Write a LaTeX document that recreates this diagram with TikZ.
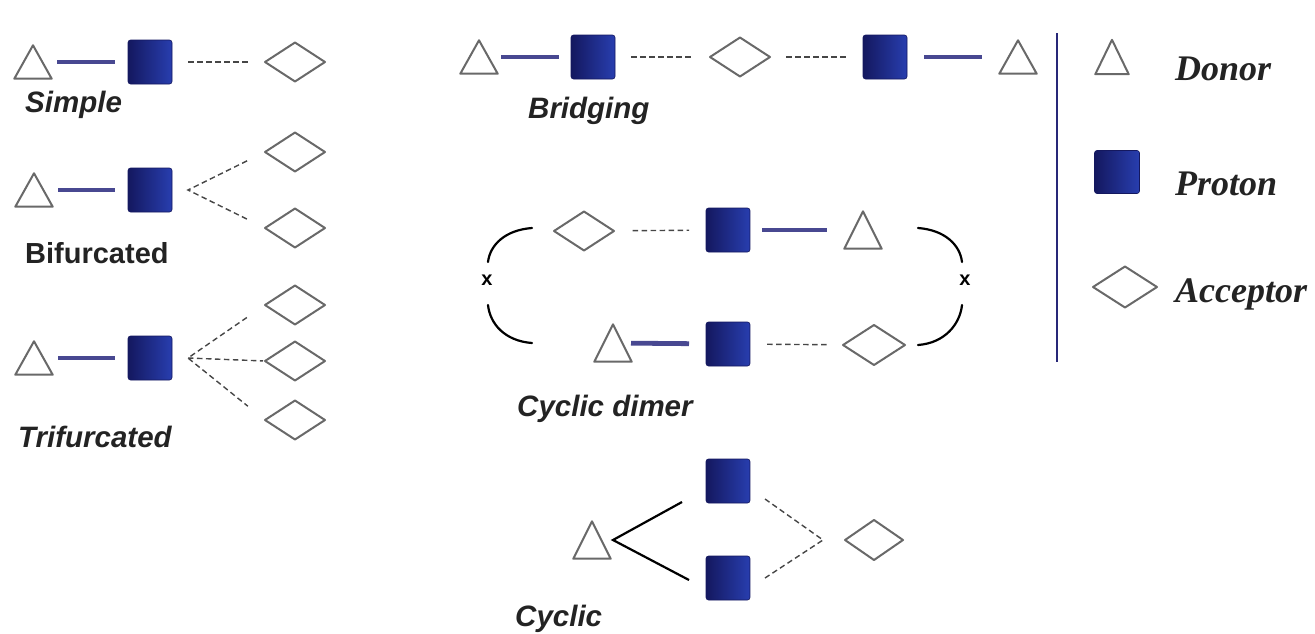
\documentclass[tikz,border=0pt]{standalone}
\usepackage{fontspec}
\setmainfont{Liberation Serif}
\newfontfamily\labfont{Liberation Sans}
\usetikzlibrary{shapes.geometric}
\definecolor{shapegray}{RGB}{105,105,105}
\definecolor{bondc}{RGB}{72,72,145}
\definecolor{hbc}{RGB}{70,70,70}
\definecolor{pdark}{RGB}{20,24,95}
\definecolor{plight}{RGB}{40,62,175}
\definecolor{vlinec}{RGB}{40,40,120}
\definecolor{labc}{RGB}{35,35,35}
\begin{document}
\begin{tikzpicture}[x=1pt,y=-1pt,
  shapeline/.style={draw=shapegray, line width=2pt, line join=round},
  donor/.style={shape=rectangle, inner sep=0pt, outer sep=0pt, fill=white,
    minimum width=40pt, minimum height=36pt,
    path picture={\draw[shapeline]
      ([shift={(1.3pt,1.3pt)}]path picture bounding box.south west) --
      ([shift={(-1.3pt,1.3pt)}]path picture bounding box.south east) --
      ([shift={(0pt,-1.3pt)}]path picture bounding box.north) -- cycle;}},
  acceptor/.style={shape=diamond, shapeline, fill=white, inner sep=0pt, outer sep=0pt,
    minimum width=60pt, minimum height=39pt},
  proton/.style={shape=rectangle, rounded corners=2.5pt, inner sep=0pt, outer sep=0pt,
    minimum width=44pt, minimum height=44pt, left color=pdark, right color=plight,
    draw=pdark, line width=0.6pt},
  bond/.style={draw=bondc, line width=4.8pt},
  hb/.style={draw=hbc, line width=1.4pt, dash pattern=on 5.5pt off 3.5pt},
  single/.style={draw=black, line width=2.2pt},
  bracket/.style={draw=black, line width=2.2pt, line cap=round},
  lbl/.style={anchor=base west, inner sep=0pt, text=labc,
    font=\labfont\fontsize{29.5}{34}\selectfont\bfseries\itshape},
  lblup/.style={anchor=base west, inner sep=0pt, text=labc,
    font=\labfont\fontsize{29}{34}\selectfont\bfseries},
  leg/.style={anchor=base west, inner sep=0pt, text=labc,
    font=\fontsize{36}{40}\selectfont\bfseries\itshape},
  xlab/.style={inner sep=0pt, text=black, font=\labfont\fontsize{20}{22}\selectfont\bfseries}
]
\useasboundingbox (0,0) rectangle (1315,633);

% ---------- Simple ----------
\node[donor] (t1) at (33,62) {};
\node[proton] (s1) at (150,62) {};
\node[acceptor] (a1) at (295,62) {};
\draw[bond, shorten <=4pt, shorten >=13pt] (t1) -- (s1);
\draw[hb, shorten <=16pt, shorten >=16pt] (s1) -- (a1);
\node[lbl] (lsimple) at (25,112) {Simple};

% ---------- Bifurcated ----------
\node[donor] (t2) at (34,190) {};
\node[proton] (s2) at (150,190) {};
\node[acceptor] (a2u) at (295,152) {};
\node[acceptor] (a2d) at (295,228) {};
\coordinate (v2) at ([xshift=16pt]s2.east);
\draw[bond, shorten <=4pt, shorten >=13pt] (t2) -- (s2);
\draw[hb, shorten <=20pt, shorten >=20pt] (a2u.west) -- (v2) -- (a2d.west);
\node[lblup] (lbif) at (25,263) {Bifurcated};

% ---------- Trifurcated ----------
\node[donor] (t3) at (34,358) {};
\node[proton] (s3) at (150,358) {};
\node[acceptor] (a3u) at (295,305) {};
\node[acceptor] (a3m) at (295,361) {};
\node[acceptor] (a3d) at (295,420) {};
\coordinate (v3) at ([xshift=16pt]s3.east);
\draw[bond, shorten <=4pt, shorten >=13pt] (t3) -- (s3);
\draw[hb, shorten <=22pt, shorten >=22pt] (a3u.west) -- (v3) -- (a3d.west);
\draw[hb, shorten >=2pt] (v3) -- (a3m.west);
\node[lbl] (ltri) at (18,447) {Trifurcated};

% ---------- Bridging ----------
\node[donor] (tb1) at (479,57) {};
\node[proton] (sb1) at (593,57) {};
\node[acceptor] (ab) at (740,57) {};
\node[proton] (sb2) at (885,57) {};
\node[donor] (tb2) at (1018,57) {};
\draw[bond, shorten <=2pt, shorten >=12pt] (tb1) -- (sb1);
\draw[hb, shorten <=16pt, shorten >=17pt] (sb1) -- (ab);
\draw[hb, shorten <=16pt, shorten >=16pt] (ab) -- (sb2);
\draw[bond, shorten <=17pt, shorten >=16pt] (sb2) -- (tb2);
\node[lbl] (lbridge) at (528,118) {Bridging};

% ---------- Cyclic dimer ----------
\node[acceptor] (ad1) at (584,231) {};
\node[proton] (sd1) at (728,230) {};
\node[donor, minimum height=40pt] (td1) at (863,230) {};
\node[donor, minimum height=40pt] (td2) at (613,343) {};
\node[proton] (sd2) at (728,344) {};
\node[acceptor, minimum width=62pt, minimum height=40pt] (ad2) at (874,345) {};
\draw[hb, shorten <=19pt, shorten >=17pt] (ad1) -- (sd1);
\draw[bond, shorten <=12pt, shorten >=16pt] (sd1) -- (td1);
\draw[bond, shorten <=-2pt, shorten >=17pt] (td2) -- (sd2);
\draw[hb, shorten <=17pt, shorten >=16pt] (sd2) -- (ad2);
\node[xlab] (xl) at (487,280) {x};
\node[xlab] (xr) at (965,280) {x};
\draw[bracket] (532,228) .. controls (505,230) and (490,245) .. (488,262);
\draw[bracket] (488,305) .. controls (490,324) and (505,341) .. (532,343);
\draw[bracket] (918,228) .. controls (945,230) and (960,245) .. (962,262);
\draw[bracket] (962,305) .. controls (960,324) and (945,343) .. (918,345);
\node[lbl] (ldimer) at (517,416) {Cyclic dimer};

% ---------- Cyclic ----------
\node[proton] (p1) at (728,481) {};
\node[proton] (p2) at (728,578) {};
\node[donor, minimum height=40pt] (tc) at (592,540) {};
\node[acceptor, minimum width=58pt, minimum height=40pt] (dc) at (874,540) {};
\coordinate (cv) at ([xshift=-22pt]dc.west);
\draw[single] ([shift={(-24,21)}]p1.west) -- ([xshift=1pt]tc.east) -- ([shift={(-17,2)}]p2.west);
\draw[hb] ([shift={(15,18)}]p1.east) -- (cv) -- ([xshift=15pt]p2.east);
\node[lbl] (lcyc) at (515,626) {Cyclic};

% ---------- Legend ----------
\draw[draw=vlinec, line width=1.8pt] (1057,33) -- (1057,362);
\node[donor, minimum width=36pt, minimum height=37pt] (tl) at (1112,57) {};
\node[proton, minimum width=45pt, minimum height=43pt] (sl) at (1117,172) {};
\node[acceptor, minimum width=64pt, minimum height=41pt] (al) at (1125,287) {};
\node[leg] (ldonor) at (1175,80) {Donor};
\node[leg] (lproton) at (1175,195) {Proton};
\node[leg] (lacc) at (1175,302) {Acceptor};
\end{tikzpicture}
\end{document}
